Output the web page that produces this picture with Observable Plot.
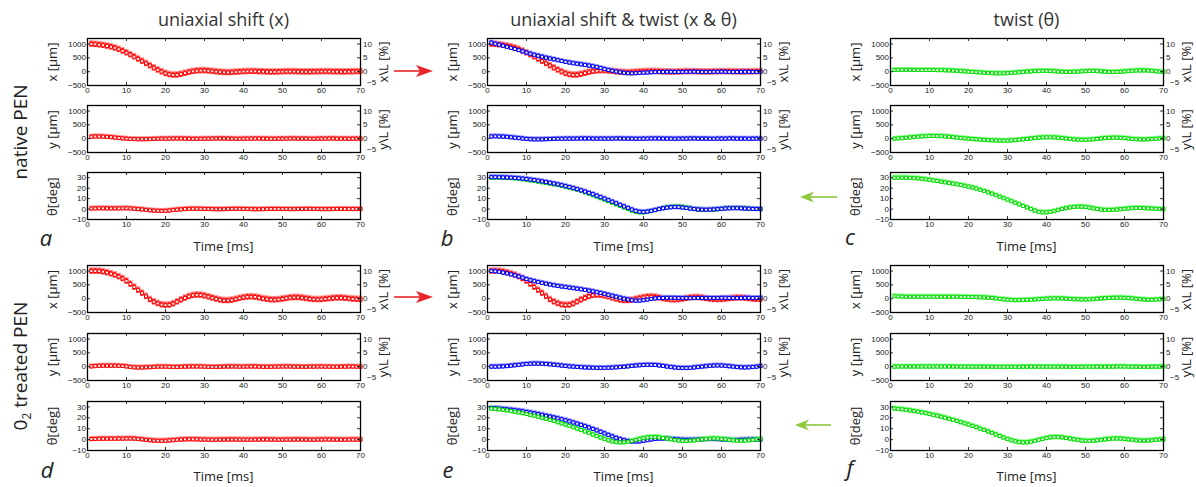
<!DOCTYPE html>
<html><head><meta charset="utf-8">
<script src="https://cdn.jsdelivr.net/npm/d3@7"></script>
<script src="https://cdn.jsdelivr.net/npm/@observablehq/plot@0.6"></script>
<style>
body{margin:0;background:#fff;}
#fig{position:relative;width:1196px;height:487px;overflow:hidden;background:#fff;}
#fig svg{position:absolute;overflow:visible;}
</style></head><body><div id="fig"></div>
<script>
// ---------- data (time in ms, x/y in µm, θ in degrees) ----------
const time = [1,2,3,4,5,6,7,8,9,10,11,12,13,14,15,16,17,18,19,20,21,22,23,24,25,26,27,28,29,30,
  31,32,33,34,35,36,37,38,39,40,41,42,43,44,45,46,47,48,49,50,51,52,53,54,55,56,57,58,59,60,
  61,62,63,64,65,66,67,68,69,70];
const xTicks = [0,10,20,30,40,50,60,70];
const umTicks = [-500,0,500,1000];
const pctTicks = [-5,0,5,10];
const degTicks = [-10,0,10,20,30];
const umDomain = [-500,1200];
const degDomain = [-10,35];
const umPerPct = 100; // L = 10 mm

// native PEN — uniaxial shift (a)
const a_x = [1000,990,975,955,930,900,860,810,750,685,
 615,540,460,380,300,220,140,65,0,-60,
 -100,-120,-115,-90,-55,-20,10,30,40,40,
 30,15,0,-15,-25,-30,-25,-15,-5,5,
 10,12,10,5,0,-5,-10,-10,-5,0,
 5,5,5,0,-5,-5,-5,0,0,5,
 5,5,0,0,-5,-5,0,0,5,5];
const a_y = [70,80,80,75,65,55,40,25,10,0,
 -10,-15,-20,-20,-20,-15,-10,-5,0,0,
 0,5,5,5,0,0,-5,-5,-5,0,
 0,0,5,5,5,0,0,-5,-5,0,
 0,0,5,5,0,0,-5,-5,0,0,
 0,5,5,0,0,0,-5,-5,0,0,
 0,5,5,0,0,0,-5,0,0,0];
const a_th = [0.5,0.6,0.7,0.7,0.7,0.6,0.6,0.6,0.7,0.7,
 0.6,0.3,0,-0.4,-0.8,-1.2,-1.5,-1.7,-1.8,-1.7,
 -1.4,-1,-0.6,-0.3,0,0.2,0.3,0.3,0.2,0.1,
 0,-0.1,-0.2,-0.2,-0.1,0,0.1,0.2,0.2,0.1,
 0,-0.1,-0.2,-0.2,-0.1,0,0.1,0.1,0.1,0,
 0,-0.1,-0.1,0,0,0.1,0.1,0,0,-0.1,
 -0.1,-0.1,0,0.1,0.1,0.1,0,0,0,0];
// native PEN — shift & twist (b)
const b_x = [1050,1010,975,940,900,860,820,780,735,690,
 650,610,575,540,505,475,445,415,385,355,
 330,305,285,265,245,220,195,165,130,95,
 60,30,5,-20,-40,-55,-60,-55,-45,-35,
 -30,-20,-15,-10,-10,-5,-5,-10,-10,-10,
 -5,-5,0,-5,-10,-10,-10,-5,-5,0,
 -5,-10,-10,-10,-5,-5,-5,-10,-10,-5];
const b_y = [80,85,80,75,65,50,35,20,5,-10,
 -20,-25,-25,-25,-20,-15,-10,-5,-5,0,
 0,0,0,5,5,5,0,0,0,0,
 0,0,5,5,0,0,0,-5,-5,0,
 0,5,5,5,0,0,0,-5,0,0,
 0,5,5,0,0,0,-5,-5,0,0,
 0,5,5,0,0,0,-5,0,0,0];
const b_th = [30.5,30.5,30.4,30.3,30.2,30,29.8,29.5,29.1,28.7,
 28.2,27.7,27.1,26.5,25.8,25.1,24.4,23.6,22.8,21.9,
 21,20,19,17.9,16.7,15.5,14.2,12.8,11.4,10,
 8.5,7,5.5,4,2.5,1,-0.5,-1.8,-2.6,-2.8,
 -2.5,-1.8,-1,-0.1,0.7,1.3,1.7,1.9,1.8,1.5,
 1,0.5,0,-0.4,-0.6,-0.7,-0.6,-0.4,-0.1,0.2,
 0.5,0.7,0.8,0.8,0.7,0.5,0.3,0.1,0,-0.1];
// native PEN — twist (c)
const c_x = [60,65,65,65,65,65,60,60,60,60,
 60,55,55,50,45,40,30,20,10,0,
 -10,-20,-30,-40,-50,-55,-60,-60,-60,-55,
 -45,-35,-20,-10,0,10,20,25,30,30,
 25,15,5,-5,-10,-10,-5,0,10,20,
 25,25,20,10,0,-10,-15,-10,0,10,
 20,30,40,45,45,40,30,15,0,-10];
const c_y = [0,10,20,30,45,55,70,80,90,95,
 95,95,90,80,70,55,40,25,10,0,
 -15,-25,-35,-45,-55,-60,-65,-70,-70,-70,
 -65,-55,-40,-25,-10,5,20,35,45,50,
 50,45,35,20,5,-10,-25,-35,-40,-40,
 -35,-25,-10,5,20,30,35,35,30,20,
 5,-10,-20,-30,-30,-25,-15,-5,5,15];
const c_th = [30,30,30,30,29.8,29.6,29.3,29,28.5,28,
 27.4,26.8,26.2,25.6,25,24.3,23.7,23,22.3,21.5,
 20.6,19.6,18.5,17.3,16,14.7,13.3,11.9,10.4,9,
 7.5,6,4.5,3,1.5,0,-1.5,-2.7,-3.2,-3.2,
 -2.8,-2,-1,0,0.8,1.5,2,2.3,2.3,2,
 1.4,0.7,0,-0.5,-0.8,-0.9,-0.8,-0.5,-0.2,0.2,
 0.6,0.9,1,1,0.8,0.6,0.4,0.2,0,-0.1];
// O2 treated PEN — uniaxial shift (d)
const d_x = [1000,1000,995,975,945,905,860,800,730,640,
 530,420,310,200,85,-30,-110,-170,-215,-235,
 -225,-180,-110,-40,25,80,120,135,130,105,
 70,30,-10,-45,-65,-65,-50,-20,15,45,
 65,70,60,35,5,-20,-35,-40,-30,-10,
 15,35,45,45,30,10,-10,-25,-30,-25,
 -10,5,20,30,30,20,5,-10,-20,-25];
const d_y = [10,20,30,35,35,35,35,30,25,10,
 -10,-25,-30,-30,-25,-20,-10,0,0,0,
 -5,-10,-10,-5,0,5,5,5,5,0,
 -5,-10,-10,-5,0,5,5,5,0,0,
 5,5,5,0,-5,-5,-5,0,0,5,
 5,5,0,0,-5,-5,0,0,5,5,
 0,0,-5,-5,0,0,5,5,0,0];
const d_th = [0.5,0.6,0.7,0.8,0.8,0.8,0.8,0.9,0.9,1,
 1,0.9,0.6,0.2,-0.2,-0.6,-0.9,-1.1,-1.1,-1,
 -0.8,-0.5,-0.2,0,0.2,0.3,0.3,0.2,0.1,0,
 -0.1,-0.1,-0.1,0,0,0.1,0.1,0.1,0,0,
 -0.1,-0.1,0,0,0.1,0.1,0,0,-0.1,-0.1,
 0,0,0.1,0.1,0,0,-0.1,-0.1,0,0,
 0.1,0.1,0,0,-0.1,-0.1,0,0,0,0];
// O2 treated PEN — shift & twist (e)
const e_x = [1000,990,970,945,915,880,840,800,760,710,
 670,635,600,570,540,510,485,460,440,420,
 400,380,360,340,315,290,265,235,205,175,
 140,105,70,35,0,-30,-55,-70,-70,-55,
 -35,-10,10,20,25,30,30,30,25,20,
 20,20,25,25,25,20,20,20,25,30,
 30,25,20,20,25,30,30,25,25,30];
const e_y = [0,0,5,10,20,35,50,65,80,95,
 105,110,110,105,95,85,70,55,40,25,
 10,0,-10,-20,-30,-35,-40,-45,-45,-45,
 -40,-35,-25,-15,-5,10,25,40,50,60,
 65,65,60,45,25,5,-15,-30,-45,-50,
 -50,-45,-30,-15,0,15,30,40,45,40,
 30,15,0,-15,-25,-30,-25,-15,0,20];
const e_th = [29,28.8,28.5,28.2,27.8,27.4,27,26.5,26,25.4,
 24.8,24.1,23.4,22.7,21.9,21.1,20.3,19.5,18.6,17.7,
 16.7,15.7,14.6,13.5,12.3,11.1,9.8,8.5,7.1,5.7,
 4.3,2.9,1.6,0.4,-0.6,-1.3,-1.7,-1.8,-1.6,-1.1,
 -0.5,0.1,0.6,0.9,1,0.9,0.7,0.4,0.1,-0.1,
 -0.2,-0.2,-0.1,0,0.2,0.4,0.5,0.5,0.4,0.2,
 0,-0.2,-0.3,-0.3,-0.2,-0.1,0,0.1,0.1,0];
// O2 treated PEN — twist (f)
const f_x = [90,80,75,70,70,70,70,70,70,70,
 70,70,70,70,70,70,70,65,65,60,
 60,55,50,45,35,25,10,-10,-25,-40,
 -50,-55,-55,-50,-45,-40,-30,-20,-10,0,
 5,10,10,5,0,-10,-20,-25,-30,-30,
 -25,-15,-5,5,15,25,30,35,35,30,
 20,10,-5,-20,-30,-40,-40,-35,-25,-15];
const f_y = [0,5,5,5,5,5,5,5,5,5,
 5,5,5,5,5,5,0,0,0,0,
 0,0,0,0,0,0,-5,-5,-5,-5,
 -5,-5,-5,0,0,0,0,0,0,0,
 0,0,0,0,0,-5,-5,-5,-5,0,
 0,0,0,0,0,0,0,5,5,5,
 0,0,0,-5,-5,-5,0,0,0,0];
const f_th = [28.5,28.2,27.8,27.3,26.8,26.2,25.6,25,24.3,23.5,
 22.7,21.9,21,20.1,19.1,18.1,17.1,16,14.9,13.8,
 12.6,11.4,10.1,8.8,7.5,6.1,4.7,3.3,1.9,0.6,
 -0.6,-1.6,-2.3,-2.6,-2.5,-2,-1.2,-0.3,0.6,1.4,
 2,2.3,2.3,2,1.5,0.9,0.3,-0.3,-0.8,-1.1,
 -1.2,-1,-0.7,-0.3,0.2,0.6,0.9,1,0.9,0.6,
 0.2,-0.2,-0.6,-0.9,-1,-0.9,-0.6,-0.2,0.1,0.3];

// error half-widths: [inner bar, outer light band]
const errShift_um = [75, 120], errSmall_um = [50, 90], err_deg = [1.3, 2.4];

const columnTitles = ["uniaxial shift (x)", "uniaxial shift & twist (x & θ)", "twist (θ)"];
const rowTitles = ["native PEN", "treated PEN"];
const panelLetters = ["a","b","c","d","e","f"];
const leftLabels = ["x [µm]", "y [µm]", "θ[deg]"];
const rightLabels = ["x\\L [%]", "y\\L [%]", null];
const timeLabel = "Time [ms]";

// ---------- layout ----------
const RED = {color:"#ff0000", light:"#ff8c8c"};
const BLUE = {color:"#0000ff", light:"#9090ff"};
const GREEN = {color:"#00dd00", light:"#8cff8c"};
const colLeft = [87, 487, 890];
const W = 273;
const rowGeom = [[37.5,47],[105,47],[172.3,47],[265,47],[332.5,47],[400.5,49]];
const mL = 34, mR = 26, mT = 4, mB = 16;

const S = (values, col, err) => ({values, ...col, err});
const panels = [
  [[S(a_x,RED,errShift_um)], [S(a_y,RED,errSmall_um)], [S(a_th,RED,err_deg)]],
  [[S(a_x,RED,errShift_um), S(b_x,BLUE,errSmall_um)], [S(b_y,BLUE,errSmall_um)], [S(c_th,GREEN,err_deg), S(b_th,BLUE,err_deg)]],
  [[S(c_x,GREEN,errSmall_um)], [S(c_y,GREEN,errSmall_um)], [S(c_th,GREEN,err_deg)]],
  [[S(d_x,RED,errShift_um)], [S(d_y,RED,errSmall_um)], [S(d_th,RED,err_deg)]],
  [[S(d_x,RED,errShift_um), S(e_x,BLUE,errSmall_um)], [S(e_y,BLUE,errSmall_um)], [S(e_th,BLUE,err_deg), S(f_th,GREEN,err_deg)]],
  [[S(f_x,GREEN,errSmall_um)], [S(f_y,GREEN,errSmall_um)], [S(f_th,GREEN,err_deg)]]
];

const fig = document.getElementById("fig");
const minus = d => (d < 0 ? "\u2212" + (-d) : String(d));

function drawPanel(left, top, h, kind, series) {
  const um = kind !== 2;
  const domain = um ? umDomain : degDomain;
  const ticks = um ? umTicks : degTicks;
  const rightPos = um ? pctTicks.map(p => p * umPerPct) : degTicks;
  const marks = [];
  for (const s of series) {
    const data = time.map((t, i) => ({t, v: s.values[i]}));
    marks.push(Plot.ruleX(data, {x: "t", y1: d => d.v - s.err[1], y2: d => d.v + s.err[1], stroke: s.light, strokeWidth: 4.2}));
  }
  for (const s of series) {
    const data = time.map((t, i) => ({t, v: s.values[i]}));
    const lo = d => d.v - s.err[0], hi = d => d.v + s.err[0];
    marks.push(Plot.ruleX(data, {x: "t", y1: lo, y2: hi, stroke: s.color, strokeWidth: 0.9}));
    marks.push(Plot.ruleY(data, {y: hi, x1: d => d.t - 0.35, x2: d => d.t + 0.35, stroke: s.color, strokeWidth: 0.9}));
    marks.push(Plot.ruleY(data, {y: lo, x1: d => d.t - 0.35, x2: d => d.t + 0.35, stroke: s.color, strokeWidth: 0.9}));
    marks.push(Plot.dot(data, {x: "t", y: "v", symbol: "square", r: 1.7, stroke: s.color, fill: "white", strokeWidth: 1}));
  }
  marks.push(
    Plot.ruleX(xTicks.slice(1, -1), {insetTop: h - 3, stroke: "#000", strokeWidth: 0.8}),
    Plot.ruleX(xTicks.slice(1, -1), {insetBottom: h - 3, stroke: "#000", strokeWidth: 0.8}),
    Plot.ruleY(ticks, {insetRight: W - 3, stroke: "#000", strokeWidth: 0.8}),
    Plot.ruleY(rightPos, {insetLeft: W - 3, stroke: "#000", strokeWidth: 0.8}),
    Plot.frame({stroke: "#000", strokeWidth: 1.3}),
    Plot.axisX(xTicks, {tickSize: 0, tickPadding: 2, label: null, fontSize: 8, tickFormat: minus}),
    Plot.axisY(ticks, {anchor: "left", tickSize: 0, tickPadding: 1.5, label: null, fontSize: 8, tickFormat: minus})
  );
  if (um) {
    const posTicks = rightPos.filter(d => d >= 0), negTicks = rightPos.filter(d => d < 0);
    marks.push(Plot.axisY(posTicks, {anchor: "right", tickSize: 0, tickPadding: 2.5, label: null, fontSize: 8,
      tickFormat: d => minus(d / umPerPct)}));
    marks.push(Plot.axisY(negTicks, {anchor: "right", tickSize: 0, tickPadding: 2.5, label: null, fontSize: 8,
      tickFormat: d => minus(d / umPerPct), dx: 4, dy: -3}));
  }
  const svg = Plot.plot({
    width: W + mL + mR, height: h + mT + mB,
    marginLeft: mL, marginRight: mR, marginTop: mT, marginBottom: mB,
    x: {domain: [0, 70]}, y: {domain},
    style: {background: "none", overflow: "visible", fontFamily: "'Liberation Sans', Arial, sans-serif", color: "#222"},
    marks
  });
  svg.style.left = (left - mL) + "px";
  svg.style.top = (top - mT) + "px";
  fig.appendChild(svg);
}

panels.forEach((panelRows, p) => {
  const group = p < 3 ? 0 : 1, col = p % 3;
  panelRows.forEach((series, r) => {
    const [top, h] = rowGeom[group * 3 + r];
    drawPanel(colLeft[col], top, h, r, series);
  });
});

// ---------- annotation overlay ----------
const ov = d3.select(fig).append("svg").attr("width", 1196).attr("height", 487)
  .style("left", "0px").style("top", "0px")
  .attr("font-family", "'Open Sans', sans-serif").attr("fill", "#222");

colLeft.forEach((cl, c) => {
  const cx = cl + W / 2;
  ov.append("text").attr("x", cx).attr("y", 26).attr("text-anchor", "middle").attr("font-size", 18).attr("fill", "#333").text(columnTitles[c]);
  [251, 481].forEach(y => ov.append("text").attr("x", cx).attr("y", y).attr("text-anchor", "middle").attr("font-size", 13).text(timeLabel));
  for (let g = 0; g < 2; g++) for (let r = 0; r < 3; r++) {
    const [top, h] = rowGeom[g * 3 + r];
    const cy = top + h / 2 + 1;
    ov.append("text").attr("transform", `translate(${cl - 30},${cy}) rotate(-90)`).attr("text-anchor", "middle").attr("font-size", 13).text(leftLabels[r]);
    if (rightLabels[r]) ov.append("text").attr("transform", `translate(${cl + W + 28},${cy}) rotate(-90)`).attr("text-anchor", "middle").attr("font-size", 13).text(rightLabels[r]);
  }
});

ov.append("text").attr("transform", "translate(27,132) rotate(-90)").attr("text-anchor", "middle").attr("font-size", 19).text(rowTitles[0]);
const t2 = ov.append("text").attr("transform", "translate(27,366) rotate(-90)").attr("text-anchor", "middle").attr("font-size", 19);
t2.append("tspan").text("0");
t2.append("tspan").attr("font-size", 12).attr("dy", 4).text("2");
t2.append("tspan").attr("dy", -4).text(" " + rowTitles[1]);

const letterPos = [[46,245.5],[447,246],[850,245],[47,477.5],[448,478],[850,476]];
panelLetters.forEach((L, i) => ov.append("text").attr("x", letterPos[i][0]).attr("y", letterPos[i][1])
  .attr("text-anchor", "middle").attr("font-size", 22).attr("font-style", "italic").text(L));

// arrows
const redA = "#e8262b", greenA = "#8dc63f";
[71, 297].forEach(y => {
  ov.append("line").attr("x1", 394).attr("x2", 422).attr("y1", y).attr("y2", y).attr("stroke", redA).attr("stroke-width", 1.6);
  ov.append("path").attr("d", `M433,${y} L416,${y-6} L420,${y} L416,${y+6} Z`).attr("fill", redA);
});
[[800,837,197],[795,831,425]].forEach(([x0,x1,y]) => {
  ov.append("line").attr("x1", x0 + 8).attr("x2", x1).attr("y1", y).attr("y2", y).attr("stroke", greenA).attr("stroke-width", 1.6);
  ov.append("path").attr("d", `M${x0},${y} L${x0+14},${y-5.5} L${x0+10},${y} L${x0+14},${y+5.5} Z`).attr("fill", greenA);
});
</script></body></html>
